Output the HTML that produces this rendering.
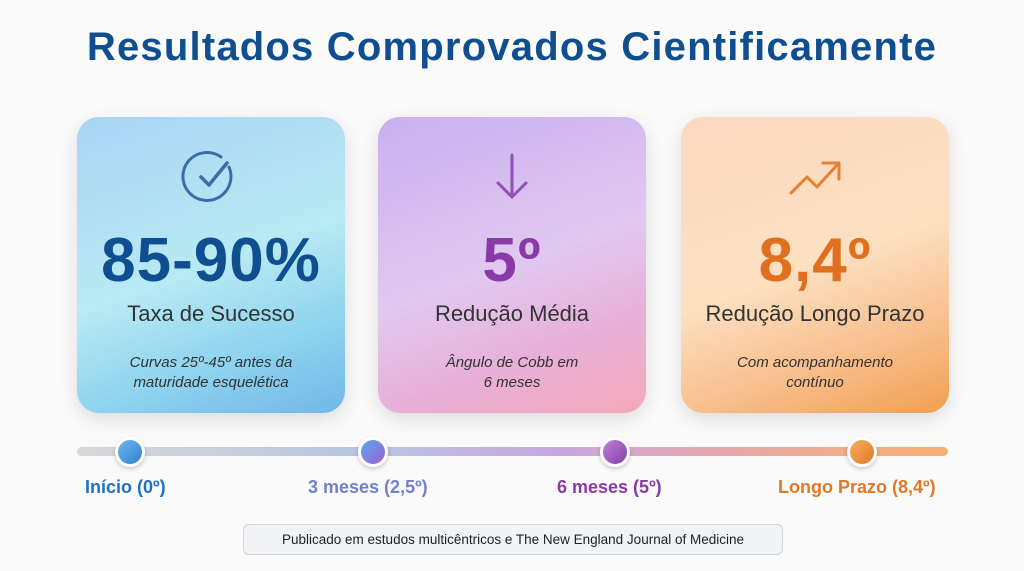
<!DOCTYPE html>
<html><head><meta charset="utf-8"><style>
*{margin:0;padding:0;box-sizing:border-box}
body{width:1024px;height:571px;background:#fafafa;font-family:"Liberation Sans",sans-serif;position:relative;overflow:hidden}
.t{position:absolute;left:0;width:1024px;top:25px;text-align:center;font-size:40px;font-weight:bold;color:#0f4f8f;letter-spacing:1.2px}
.c{position:absolute;top:117px;width:268px;height:296px;border-radius:22px;box-shadow:0 6px 18px rgba(0,0,0,.12);overflow:hidden;text-align:center}
.n{position:absolute;left:0;right:0;top:108px;font-size:62px;font-weight:bold;letter-spacing:1px}
.l{position:absolute;left:0;right:0;top:184px;font-size:22px;color:#333}
.s{position:absolute;left:0;right:0;top:236px;font-size:15px;font-style:italic;color:#333;line-height:20px}
.ic{position:absolute;left:104px;top:30px}
.line{position:absolute;left:77px;top:447px;width:871px;height:9px;border-radius:5px;background:linear-gradient(90deg,#d8d8d8,#b8c8e0 30%,#c8a8e0 55%,#e8a8a8 75%,#f8b070)}
.d{position:absolute;top:437px;width:30px;height:30px;border-radius:50%;border:3px solid #fff;box-shadow:0 2px 5px rgba(0,0,0,.2)}
.lb{position:absolute;top:477px;font-size:18px;font-weight:bold;white-space:nowrap}
.f{position:absolute;left:243px;top:524px;width:540px;height:31px;border:1px solid #d0d4dc;border-radius:6px;background:#f1f3f6;font-size:13.5px;color:#222;text-align:center;line-height:29px}
</style></head><body>
<div class="t">Resultados Comprovados Cientificamente</div>

<div class="c" style="left:77px;background:linear-gradient(160deg,#a8d4f4,#b8eaf4 50%,#90d4ee 75%,#70b8e8)">
<svg class="ic" width="60" height="60" viewBox="0 0 60 60"><path d="M48 20 A24 24 0 1 1 40 10" fill="none" stroke="#3a6ea8" stroke-width="3" stroke-linecap="round"/><path d="M20 30 L28 38 L46 16" fill="none" stroke="#3a6ea8" stroke-width="3.5" stroke-linecap="round" stroke-linejoin="round"/></svg>
<div class="n" style="color:#0f4f8f">85-90%</div>
<div class="l">Taxa de Sucesso</div>
<div class="s">Curvas 25º-45º antes da<br>maturidade esquelética</div></div>

<div class="c" style="left:378px;background:linear-gradient(160deg,#c8b0f0,#e0c8f0 50%,#e8b0d8 75%,#f4a8b8)">
<svg class="ic" width="60" height="60" viewBox="0 0 60 60"><path d="M30 8 V50 M16 36 L30 50 L44 36" fill="none" stroke="#9050b8" stroke-width="3" stroke-linecap="round" stroke-linejoin="round"/></svg>
<div class="n" style="color:#8a3aa8">5º</div>
<div class="l">Redução Média</div>
<div class="s">Ângulo de Cobb em<br>6 meses</div></div>

<div class="c" style="left:681px;background:linear-gradient(160deg,#fcd8c0,#fce0c0 50%,#f8c090 75%,#f0a050)">
<svg class="ic" width="60" height="60" viewBox="0 0 60 60"><path d="M6 46 L22 30 L32 40 L52 18 M38 16 H54 V32" fill="none" stroke="#e88030" stroke-width="3" stroke-linecap="round" stroke-linejoin="round"/></svg>
<div class="n" style="color:#e07020">8,4º</div>
<div class="l">Redução Longo Prazo</div>
<div class="s">Com acompanhamento<br>contínuo</div></div>

<div class="line"></div>
<div class="d" style="left:115px;background:linear-gradient(135deg,#70b8f0,#3080d0)"></div>
<div class="d" style="left:358px;background:linear-gradient(135deg,#58a8f0,#a060d0)"></div>
<div class="d" style="left:600px;background:linear-gradient(135deg,#c080d8,#8040a8)"></div>
<div class="d" style="left:847px;background:linear-gradient(135deg,#f8b060,#e07828)"></div>
<div class="lb" style="left:85px;color:#2070c0">Início (0º)</div>
<div class="lb" style="left:308px;color:#7080d0">3 meses (2,5º)</div>
<div class="lb" style="left:557px;color:#8a3aa8">6 meses (5º)</div>
<div class="lb" style="left:778px;color:#e07828">Longo Prazo (8,4º)</div>
<div class="f">Publicado em estudos multicêntricos e The New England Journal of Medicine</div>
</body></html>
